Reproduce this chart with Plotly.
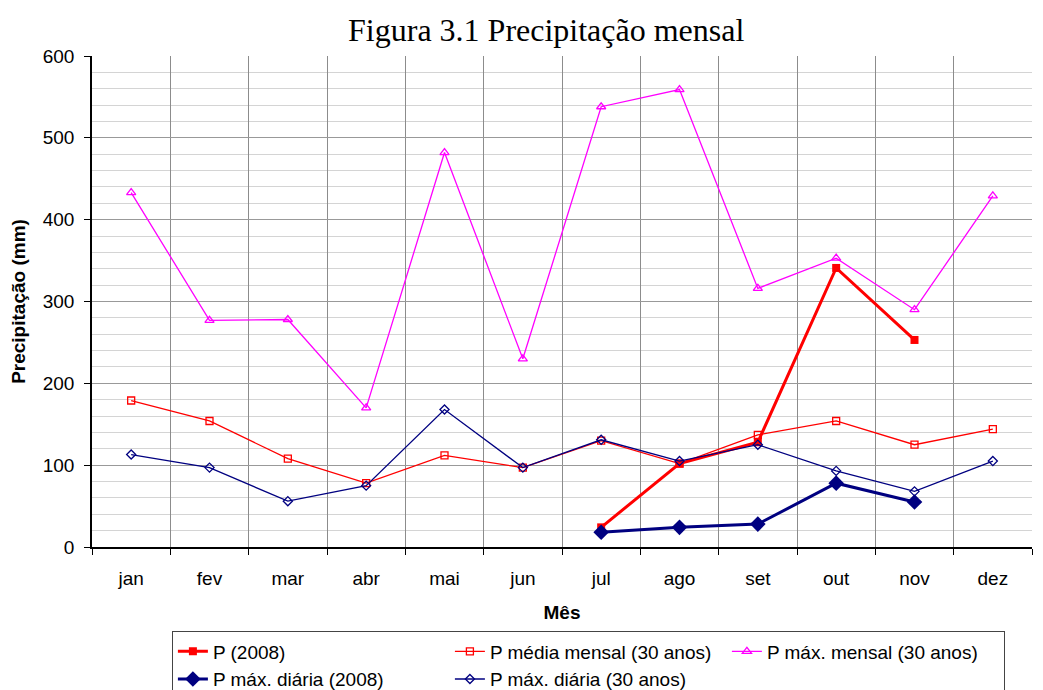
import plotly.graph_objects as go

months = ["jan", "fev", "mar", "abr", "mai", "jun", "jul", "ago", "set", "out", "nov", "dez"]
months_2008 = ["jul", "ago", "set", "out", "nov"]

p_2008 = [24, 102, 128, 341, 253]
p_media_30 = [179, 154, 108, 78, 112, 97, 130, 102, 137, 154, 125, 144]
p_max_mensal_30 = [433, 277, 278, 170, 482, 230, 538, 559, 316, 353, 290, 429]
p_max_diaria_2008 = [18, 24, 28, 78, 55]
p_max_diaria_30 = [113, 97, 56, 75, 168, 97, 131, 105, 125, 93, 68, 105]

RED = "#FF0000"
MAG = "#FF00FF"
NAVY = "#000080"

fig = go.Figure()
fig.add_trace(go.Scatter(x=months_2008, y=p_2008, name="P (2008)", mode="lines+markers",
                         line=dict(color=RED, width=3),
                         marker=dict(symbol="square", size=8, color=RED)))
fig.add_trace(go.Scatter(x=months, y=p_media_30, name="P média mensal (30 anos)", mode="lines+markers",
                         line=dict(color=RED, width=1.3),
                         marker=dict(symbol="square-open", size=7, color=RED, line=dict(width=1.3))))
fig.add_trace(go.Scatter(x=months, y=p_max_mensal_30, name="P máx. mensal (30 anos)", mode="lines+markers",
                         line=dict(color=MAG, width=1.3),
                         marker=dict(symbol="triangle-up-open", size=8, color=MAG, line=dict(width=1.3))))
fig.add_trace(go.Scatter(x=months_2008, y=p_max_diaria_2008, name="P máx. diária (2008)", mode="lines+markers",
                         line=dict(color=NAVY, width=3),
                         marker=dict(symbol="diamond", size=12, color=NAVY)))
fig.add_trace(go.Scatter(x=months, y=p_max_diaria_30, name="P máx. diária (30 anos)", mode="lines+markers",
                         line=dict(color=NAVY, width=1.3),
                         marker=dict(symbol="diamond-open", size=7, color=NAVY, line=dict(width=1.3))))

# page body has an 8px margin, so the figure is sized 1035x682 and offset by (8, 8)
fig.update_layout(
    width=1035, height=682,
    margin=dict(l=84, r=11, t=48, b=143, autoexpand=False),
    paper_bgcolor="white", plot_bgcolor="white",
    font=dict(family="Liberation Sans, Arial, sans-serif", size=19, color="black"),
    title=dict(text="Figura 3.1 Precipitação mensal", x=0.52, xanchor="center",
               y=0.968, yanchor="middle",
               font=dict(family="Liberation Serif, Times New Roman, serif", size=32, color="black")),
    xaxis=dict(
        categoryorder="array", categoryarray=months,
        tickson="boundaries", showgrid=True, gridcolor="#8c8c8c", gridwidth=1,
        ticks="outside", ticklen=6, tickcolor="black", ticklabelstandoff=13,
        showline=True, linecolor="black", linewidth=1.5,
        title=dict(text="<b>Mês</b>", standoff=18, font=dict(size=19)),
        tickfont=dict(size=19), range=[-0.5, 11.5],
    ),
    yaxis=dict(
        range=[0, 600], dtick=100, tick0=0,
        showgrid=True, gridcolor="#999999", gridwidth=1,
        minor=dict(dtick=20, showgrid=True, gridcolor="#d4d4d4", gridwidth=1),
        ticks="outside", ticklen=6, tickcolor="black", ticklabelstandoff=6,
        showline=True, linecolor="black", linewidth=1.5,
        zeroline=False,
        title=dict(text="<b>Precipitação (mm)</b>", standoff=14, font=dict(size=19)),
        tickfont=dict(size=19),
    ),
    legend=dict(
        orientation="h", x=0.085, xanchor="left", y=-0.172, yanchor="top",
        entrywidth=232, entrywidthmode="pixels",
        bordercolor="#444444", borderwidth=1, bgcolor="white",
        font=dict(size=19), itemwidth=30, tracegroupgap=0,
    ),
    showlegend=True,
)

fig.write_html("out.html")
